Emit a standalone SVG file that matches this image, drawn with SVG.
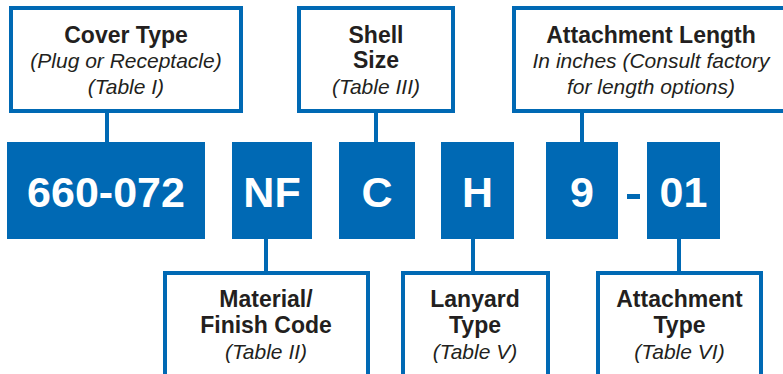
<svg xmlns="http://www.w3.org/2000/svg" width="783" height="374" viewBox="0 0 783 374">
<style>
.box{fill:#fff;stroke:#0069b4;stroke-width:4}
.blk{fill:#0069b4}
.con{stroke:#0069b4;stroke-width:4;fill:none}
.b{font-family:"Liberation Sans",Arial,sans-serif;font-weight:bold;font-size:23px;fill:#231f20;text-anchor:middle}
.i{font-family:"Liberation Sans",Arial,sans-serif;font-style:italic;font-size:21px;fill:#231f20;text-anchor:middle}
.w{font-family:"Liberation Sans",Arial,sans-serif;font-weight:bold;font-size:43px;fill:#fff;text-anchor:middle}
</style>
<rect width="783" height="374" fill="#fff"/>
<g id="connectors">
<line class="con" x1="107" y1="111" x2="107" y2="142"/>
<line class="con" x1="376" y1="111" x2="376" y2="142"/>
<line class="con" x1="582" y1="111" x2="582" y2="142"/>
<line class="con" x1="266" y1="239" x2="266" y2="273"/>
<line class="con" x1="473" y1="239" x2="473" y2="273"/>
<line class="con" x1="679" y1="239" x2="679" y2="273"/>
</g>
<g id="cover-type">
<rect class="box" x="11" y="8" width="230" height="103"/>
<text class="b" x="126" y="43">Cover Type</text>
<text class="i" x="126" y="68">(Plug or Receptacle)</text>
<text class="i" x="126" y="94">(Table I)</text>
</g>
<g id="shell-size">
<rect class="box" x="299" y="8" width="154" height="103"/>
<text class="b" x="376" y="43">Shell</text>
<text class="b" x="376" y="68">Size</text>
<text class="i" x="376" y="94">(Table III)</text>
</g>
<g id="attachment-length">
<rect class="box" x="514" y="8" width="276" height="103"/>
<text class="b" x="651" y="43">Attachment Length</text>
<text class="i" x="651" y="68">In inches (Consult factory</text>
<text class="i" x="651" y="94">for length options)</text>
</g>
<g id="code-660-072">
<rect class="blk" x="7" y="142" width="198" height="97"/>
<text class="w" x="106" y="207">660-072</text>
</g>
<g id="code-nf">
<rect class="blk" x="232" y="142" width="80" height="97"/>
<text class="w" x="272" y="207">NF</text>
</g>
<g id="code-c">
<rect class="blk" x="339" y="142" width="76" height="97"/>
<text class="w" x="377" y="207">C</text>
</g>
<g id="code-h">
<rect class="blk" x="441" y="142" width="73" height="97"/>
<text class="w" x="477.5" y="207">H</text>
</g>
<g id="code-9">
<rect class="blk" x="546" y="142" width="72" height="97"/>
<text class="w" x="582" y="207">9</text>
</g>
<g id="dash">
<rect class="blk" x="627" y="194" width="13" height="5"/>
</g>
<g id="code-01">
<rect class="blk" x="647" y="142" width="73" height="97"/>
<text class="w" x="683.5" y="207">01</text>
</g>
<g id="material-finish">
<rect class="box" x="165" y="273" width="203" height="120"/>
<text class="b" x="266" y="307">Material/</text>
<text class="b" x="266" y="333">Finish Code</text>
<text class="i" x="266" y="359">(Table II)</text>
</g>
<g id="lanyard-type">
<rect class="box" x="403" y="273" width="145" height="120"/>
<text class="b" x="475" y="307">Lanyard</text>
<text class="b" x="475" y="333">Type</text>
<text class="i" x="475" y="359">(Table V)</text>
</g>
<g id="attachment-type">
<rect class="box" x="598" y="273" width="163" height="120"/>
<text class="b" x="679.5" y="307">Attachment</text>
<text class="b" x="679.5" y="333">Type</text>
<text class="i" x="679.5" y="359">(Table VI)</text>
</g>
</svg>
